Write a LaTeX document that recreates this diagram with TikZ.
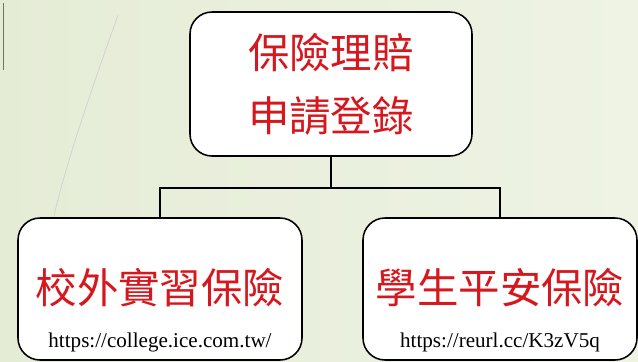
\documentclass[tikz,border=0pt]{standalone}
\usepackage{fontspec}
\setmainfont{Liberation Serif}
\newfontfamily\cjk{Noto Sans CJK TC}
\usetikzlibrary{positioning,shapes}
\definecolor{inkred}{RGB}{214,24,30}
\definecolor{bgleft}{RGB}{229,236,214}
\definecolor{bgright}{RGB}{238,243,228}
\tikzset{box/.style={draw,rounded corners=0.55cm,fill=white,line width=1.1pt,inner sep=0pt},
  title/.style={draw=none,text=inkred,font=\cjk\fontsize{29.5}{45}\selectfont,align=center},
  url/.style={draw=none,font=\fontsize{15}{18}\selectfont}}

\begin{document}
\begin{tikzpicture}
\useasboundingbox (0,0) rectangle (15.95,-9.025);
\fill[left color=bgleft,right color=bgright] (0,0) rectangle (15.95,-9.025);
\draw[black!55,line width=0.6pt] (0.08,-0.08) -- (0.08,-1.75);
\draw[black!18,line width=0.5pt] (2.95,-0.38) .. controls (2.3,-2.2) and (1.6,-4.2) .. (1.3,-5.62);

\node[box,minimum width=7.05cm,minimum height=3.6cm] (claim) at (8.275,-2.1) {};
\node[title] (claimtext) at (claim.center) {保險理賠\\申請登錄};
\node[box,minimum width=7.1cm,minimum height=3.55cm] (intern) at (4.0,-7.225) {};
\node[title] (interntext) at (4.0,-7.2) {校外實習保險};
\node[url] (internurl) at (4.0,-8.55) {https://college.ice.com.tw/};
\node[box,minimum width=6.85cm,minimum height=3.55cm] (student) at (12.5,-7.225) {};
\node[title] (studenttext) at (12.5,-7.2) {學生平安保險};
\node[url] (studenturl) at (12.5,-8.55) {https://reurl.cc/K3zV5q};

\coordinate (bus) at (8.275,-4.7);
\draw[line width=0.9pt] (claim.south) -- (bus);
\draw[line width=0.9pt] (intern.north) |- (bus) -| (student.north);
\end{tikzpicture}
\end{document}
